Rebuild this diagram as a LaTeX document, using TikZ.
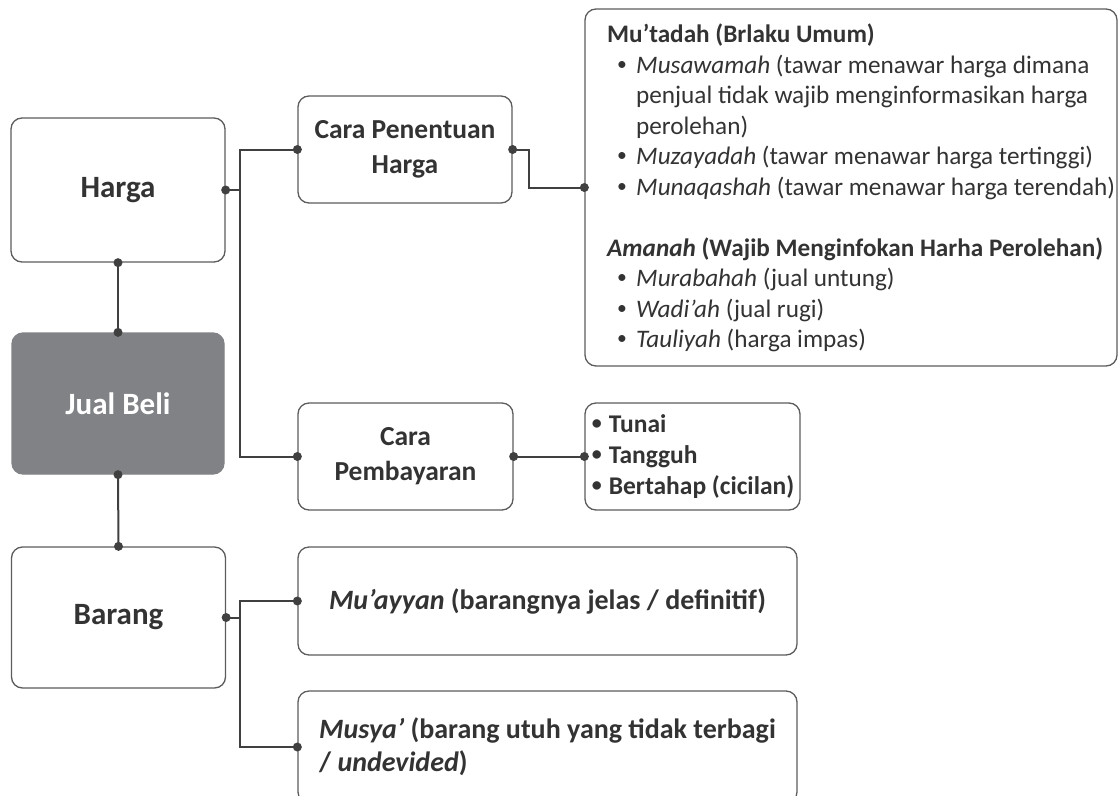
\documentclass[tikz,border=0pt]{standalone}
\usepackage{fontspec}
\setmainfont{Carlito}
\usetikzlibrary{positioning}
\definecolor{tinta}{HTML}{333333}
\definecolor{bingkai}{HTML}{5C5C5C}
\definecolor{garis}{HTML}{404040}
\definecolor{abu}{HTML}{808285}
\newcommand{\bul}{\raisebox{0.12em}{\scalebox{0.78}{\textbullet}}}
\newcommand{\itm}{\makebox[29pt][l]{\hspace{10pt}\bul}}
\newcommand{\ind}{\hspace*{29pt}}
\begin{document}
\begin{tikzpicture}[x=1pt, y=-1pt,
    kotak/.style={draw=bingkai, line width=1.3pt, rounded corners=11pt, fill=white, text=tinta, align=center},
    judul/.style={kotak, font=\fontsize{31}{36}\selectfont\bfseries},
    sub/.style={kotak, font=\fontsize{27.5}{35}\selectfont\bfseries},
    link/.style={draw=garis, line width=2pt},
    titik/.style={fill=garis}]
\useasboundingbox (0,0) rectangle (1118,795);
% kolom kiri
\node[judul, minimum width=214, minimum height=144] (harga) at (118,190) {Harga};
\node[judul, fill=abu, draw=abu, text=white, minimum width=212, minimum height=141] (jual) at (118,403.5) {Jual Beli};
\node[judul, minimum width=214, minimum height=141] (barang) at (118.5,617.5) {Barang};
% kolom tengah
\node[sub, minimum width=214, minimum height=107] (penentuan) at (405,149.5) {Cara Penentuan\\Harga};
\node[sub, minimum width=215, minimum height=107] (pembayaran) at (405.5,456.5) {Cara\\Pembayaran};
\node[kotak, font=\fontsize{28}{33}\selectfont\bfseries, minimum width=499, minimum height=108] (muayyan) at (547.5,601) {\textit{Mu’ayyan} (barangnya jelas / definitif)};
\node[kotak, font=\fontsize{28}{33}\selectfont\bfseries, align=left, minimum width=499, minimum height=112] (musya) at (547.5,747) {\textit{Musya’} (barang utuh yang tidak terbagi\\/ \textit{undevided})};
% kolom kanan
\node[kotak, minimum width=532, minimum height=357] (tipe) at (851,187.5) {};
\node[anchor=north west, inner sep=0, align=left, text=tinta, font=\fontsize{25.2}{30.5}\selectfont] (isi) at (607,24) {%
\textbf{Mu’tadah (Brlaku Umum)}\\
\itm\textit{Musawamah} (tawar menawar harga dimana\\
\ind penjual tidak wajib menginformasikan harga\\
\ind perolehan)\\
\itm\textit{Muzayadah} (tawar menawar harga tertinggi)\\
\itm\textit{Munaqashah} (tawar menawar harga terendah)\\[30.5pt]
\textbf{\textit{Amanah} (Wajib Menginfokan Harha Perolehan)}\\
\itm\textit{Murabahah} (jual untung)\\
\itm\textit{Wadi’ah} (jual rugi)\\
\itm\textit{Tauliyah} (harga impas)};
\node[kotak, align=left, font=\fontsize{25.5}{31}\selectfont\bfseries, minimum width=215, minimum height=107, inner xsep=2pt] (tunai) at (692.5,456.5) {%
\makebox[18pt][l]{\hspace{1pt}\bul}Tunai\\ \makebox[18pt][l]{\hspace{1pt}\bul}Tangguh\\ \makebox[18pt][l]{\hspace{1pt}\bul}Bertahap (cicilan)};
% penghubung
\path (harga.east) ++(14,0) coordinate (cabangatas);
\path (barang.east) ++(14,0) coordinate (cabangbawah);
\draw[link] (harga.south) -- (jual.north);
\draw[link] (jual.south) -- (barang.north);
\draw[link] (harga.east) -- (cabangatas);
\draw[link] (penentuan.west) -| (cabangatas) |- (pembayaran.west);
\draw[link] (penentuan.east) -- ++(16,0) |- (tipe.west);
\draw[link] (pembayaran.east) -- (tunai.west);
\draw[link] (barang.east) -- (cabangbawah);
\draw[link] (muayyan.west) -| (cabangbawah) |- (musya.west);
\foreach \p in {harga.south, jual.north, jual.south, barang.north, harga.east, penentuan.west, pembayaran.west, penentuan.east, tipe.west, pembayaran.east, tunai.west, barang.east, muayyan.west, musya.west}
{
    \fill[titik] (\p) circle (4.5);
}
\end{tikzpicture}
\end{document}
